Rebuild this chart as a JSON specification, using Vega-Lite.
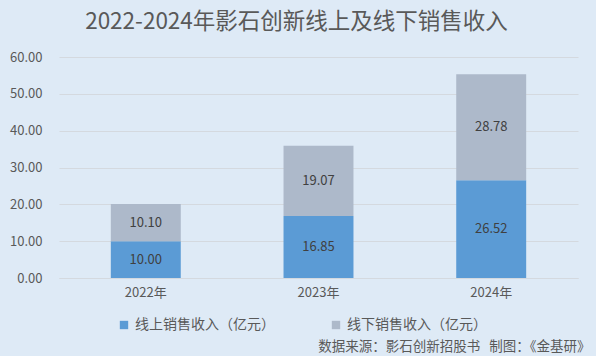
{
  "$schema": "https://vega.github.io/schema/vega-lite/v6.json",
  "width": 519,
  "height": 221,
  "autosize": {"type": "none"},
  "padding": {"left": 59, "top": 57, "right": 18, "bottom": 78},
  "background": "#DEEAF6",
  "config": {
    "view": {"stroke": null},
    "font": "Noto Sans CJK SC"
  },
  "title": {
    "text": "2022-2024年影石创新线上及线下销售收入",
    "anchor": "middle",
    "fontSize": 22.5,
    "fontWeight": "normal",
    "color": "#595959",
    "font": "Noto Sans CJK SC",
    "offset": 18,
    "dx": -22
  },
  "data": {
    "values": [
      {"year": "2022年", "type": "线上销售收入（亿元）", "order": 1, "value": 10.00},
      {"year": "2022年", "type": "线下销售收入（亿元）", "order": 2, "value": 10.10},
      {"year": "2023年", "type": "线上销售收入（亿元）", "order": 1, "value": 16.85},
      {"year": "2023年", "type": "线下销售收入（亿元）", "order": 2, "value": 19.07},
      {"year": "2024年", "type": "线上销售收入（亿元）", "order": 1, "value": 26.52},
      {"year": "2024年", "type": "线下销售收入（亿元）", "order": 2, "value": 28.78}
    ]
  },
  "encoding": {
    "x": {
      "field": "year",
      "type": "nominal",
      "scale": {"paddingInner": 0.595, "paddingOuter": 0.3},
      "axis": {
        "title": "数据来源：影石创新招股书\u00a0\u00a0\u00a0制图：《金基研》",
        "titleFontSize": 13.5,
        "titleFontWeight": "normal",
        "titleColor": "#595959",
        "titleAnchor": "end",
        "titleAlign": "right",
        "titleBaseline": "middle",
        "titleX": 531,
        "titleY": 68,
        "labelAngle": 0,
        "labelFontSize": 13,
        "labelColor": "#595959",
        "labelPadding": 8,
        "ticks": false,
        "domainColor": "#D4D9DF"
      }
    }
  },
  "layer": [
    {
      "mark": {"type": "bar"},
      "encoding": {
        "y": {
          "field": "value",
          "type": "quantitative",
          "stack": "zero",
          "scale": {"domain": [0, 60], "nice": false},
          "axis": {
            "title": null,
            "values": [0, 10, 20, 30, 40, 50, 60],
            "labelOverlap": false,
            "format": ".2f",
            "labelFontSize": 13,
            "labelColor": "#595959",
            "labelPadding": 17,
            "domain": false,
            "ticks": false,
            "gridColor": "#D4D9DF",
            "gridWidth": 1
          }
        },
        "order": {"field": "order", "type": "quantitative"},
        "color": {
          "field": "type",
          "type": "nominal",
          "scale": {
            "domain": ["线上销售收入（亿元）", "线下销售收入（亿元）"],
            "range": ["#5B9BD5", "#ADB9CA"]
          },
          "legend": {
            "title": null,
            "orient": "none",
            "direction": "horizontal",
            "legendX": 58,
            "legendY": 261,
            "symbolType": "square",
            "symbolSize": 70,
            "symbolStrokeWidth": 0,
            "labelFontSize": 14,
            "labelColor": "#595959",
            "columnPadding": 54,
            "symbolOffset": 0,
            "labelOffset": 4
          }
        }
      }
    },
    {
      "transform": [
        {"stack": "value", "groupby": ["year"], "sort": [{"field": "order", "order": "ascending"}], "as": ["v0", "v1"]},
        {"calculate": "(datum.v0 + datum.v1) / 2", "as": "mid"}
      ],
      "mark": {"type": "text", "fontSize": 13, "color": "#404040", "baseline": "middle"},
      "encoding": {
        "y": {
          "field": "mid",
          "type": "quantitative",
          "axis": {
            "title": null,
            "values": [0, 10, 20, 30, 40, 50, 60],
            "labelOverlap": false,
            "format": ".2f",
            "labelFontSize": 13,
            "labelColor": "#595959",
            "labelPadding": 17,
            "domain": false,
            "ticks": false,
            "gridColor": "#D4D9DF",
            "gridWidth": 1
          }
        },
        "text": {"field": "value", "type": "quantitative", "format": ".2f"}
      }
    }
  ]
}
